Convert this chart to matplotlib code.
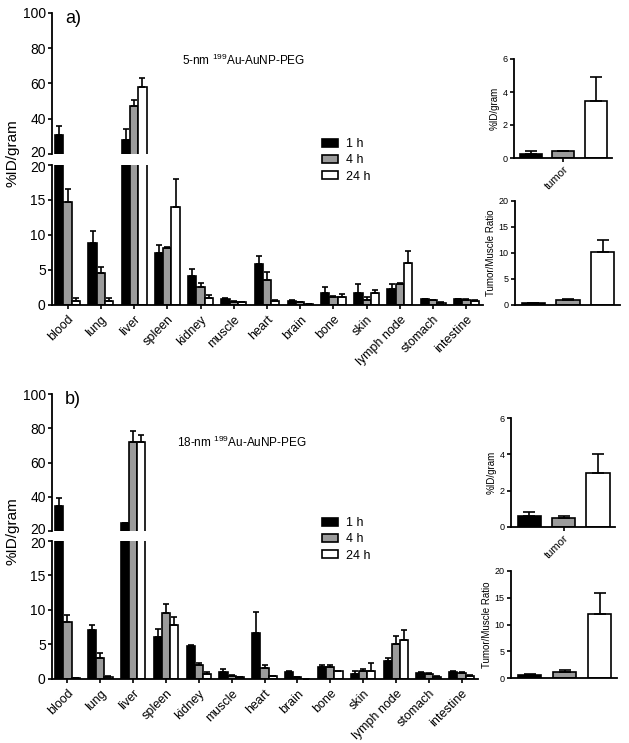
import numpy as np
import matplotlib.pyplot as plt
import matplotlib.transforms as mtransforms
from matplotlib.patches import Patch

plt.rcParams['font.family'] = ['Liberation Sans', 'DejaVu Sans']
plt.rcParams['mathtext.fontset'] = 'custom'
plt.rcParams['mathtext.rm'] = 'Liberation Sans'

organs = ['blood', 'lung', 'liver', 'spleen', 'kidney', 'muscle', 'heart',
          'brain', 'bone', 'skin', 'lymph node', 'stomach', 'intestine']
times = ['1 h', '4 h', '24 h']
colors = ['black', '#9b9b9b', 'white']

# a) 5-nm particles, %ID/gram (mean, upper error)
a_1h = [30.7, 8.8, 28.2, 7.4, 4.1, 0.8, 5.9, 0.55, 1.76, 1.76, 2.25, 0.8, 0.8]
a_1h_err = [5.2, 1.7, 6.2, 1.15, 1.0, 0.25, 1.1, 0.1, 0.75, 1.2, 0.7, 0.1, 0.1]
a_4h = [14.7, 4.6, 47.0, 8.1, 2.5, 0.45, 3.55, 0.4, 1.15, 0.67, 3.05, 0.67, 0.7]
a_4h_err = [1.9, 0.8, 3.5, 0.2, 0.7, 0.05, 1.15, 0.05, 0.15, 0.5, 0.1, 0.08, 0.1]
a_24h = [0.6, 0.6, 58.1, 13.9, 1.05, 0.4, 0.55, 0.1, 1.2, 1.7, 6.0, 0.33, 0.55]
a_24h_err = [0.35, 0.35, 5.3, 4.0, 0.35, 0.05, 0.2, 0.02, 0.3, 0.4, 1.7, 0.09, 0.1]

# b) 18-nm particles
b_1h = [34.6, 7.1, 24.5, 6.1, 4.7, 0.95, 6.7, 1.05, 1.7, 0.72, 2.55, 0.87, 1.05]
b_1h_err = [4.8, 0.75, 0.3, 1.2, 0.2, 0.55, 3.05, 0.15, 0.35, 0.43, 0.45, 0.18, 0.1]
b_4h = [8.2, 3.0, 72.0, 9.6, 2.0, 0.5, 1.55, 0.25, 1.7, 1.2, 5.05, 0.72, 0.87]
b_4h_err = [1.0, 0.7, 6.4, 1.25, 0.25, 0.15, 0.5, 0.03, 0.3, 0.2, 1.15, 0.15, 0.13]
b_24h = [0.1, 0.35, 72.0, 7.75, 0.72, 0.3, 0.38, 0.05, 1.15, 1.2, 5.6, 0.34, 0.43]
b_24h_err = [0.02, 0.1, 4.0, 1.25, 0.23, 0.05, 0.05, 0.01, 0.05, 1.06, 1.5, 0.05, 0.15]

# tumor insets (1 h, 4 h, 24 h)
a_tumor = [0.25, 0.4, 3.45]
a_tumor_err = [0.2, 0.05, 1.45]
a_ratio = [0.3, 1.0, 10.1]
a_ratio_err = [0.15, 0.1, 2.4]
b_tumor = [0.6, 0.5, 3.0]
b_tumor_err = [0.25, 0.12, 1.0]
b_ratio = [0.6, 1.1, 11.9]
b_ratio_err = [0.1, 0.35, 3.9]

W, H = 629, 743
fig = plt.figure(figsize=(W / 100, H / 100), dpi=100)


def px_axes(x0, x1, y0, y1):
    # pixel box (left, right, top, bottom) -> axes
    return fig.add_axes([x0 / W, 1 - y1 / H, (x1 - x0) / W, (y1 - y0) / H])


def style(ax, size=10):
    for s in ['top', 'right']:
        ax.spines[s].set_visible(False)
    for s in ['left', 'bottom']:
        ax.spines[s].set_linewidth(1.3)
    ax.tick_params(width=1.2, length=3, labelsize=size, pad=1.5)


def nudge(label, dy):
    # shift a tick label by dy points (keeps the two "20" labels apart)
    label.set_transform(label.get_transform() +
                        mtransforms.ScaledTranslation(0, dy / 72, fig.dpi_scale_trans))


def main_panel(top_box, bot_box, series, errs, label, title, leg_y, ylab_y):
    ax_t = px_axes(*top_box)
    ax_b = px_axes(*bot_box)
    x = np.arange(len(organs))
    for i in range(3):
        xi = x + (i - 1) * 0.25
        for ax in (ax_t, ax_b):
            ax.bar(xi, series[i], 0.25, color=colors[i], edgecolor='black', linewidth=1.2)
            ax.errorbar(xi, series[i], yerr=[np.zeros(len(x)), errs[i]], fmt='none',
                        ecolor='black', elinewidth=1.2, capsize=2, capthick=1.2)
    for ax in (ax_t, ax_b):
        style(ax)
        ax.set_xlim(-0.47, 12.5)
    ax_t.set_ylim(20, 100)
    ax_t.set_yticks([20, 40, 60, 80, 100])
    ax_t.spines['bottom'].set_visible(False)
    ax_t.set_xticks([])
    ax_b.set_ylim(0, 20)
    ax_b.set_yticks([0, 5, 10, 15, 20])
    ax_b.set_xticks(x)
    ax_b.set_xticklabels(organs, rotation=45, ha='right', rotation_mode='anchor', fontsize=9)
    ax_b.tick_params(axis='x', pad=3)
    nudge(ax_t.get_yticklabels()[0], 1.5)
    nudge(ax_b.get_yticklabels()[-1], -1.5)
    fig.text(65 / W, 1 - top_box[2] / H + 0.004, label, fontsize=13, va='top')
    fig.text(title[1] / W, 1 - title[2] / H, title[0], fontsize=8.5, va='center')
    fig.text(13 / W, 1 - ylab_y / H, '%ID/gram', fontsize=11, rotation=90,
             ha='center', va='center')
    handles = [Patch(facecolor=c, edgecolor='black', linewidth=1.2) for c in colors]
    fig.legend(handles, times, loc='upper left', bbox_to_anchor=(322 / W, 1 - leg_y / H),
               frameon=False, fontsize=9, borderpad=0, borderaxespad=0,
               handlelength=1.3, handleheight=0.6, handletextpad=0.6, labelspacing=0.35)


def inset(box, vals, errs, ymax, ylabel, xlab):
    ax = px_axes(*box)
    x = np.arange(3)
    ax.bar(x, vals, 0.68, color=colors, edgecolor='black', linewidth=1.2)
    ax.errorbar(x, vals, yerr=[np.zeros(3), errs], fmt='none', ecolor='black',
                elinewidth=1.2, capsize=4, capthick=1.2)
    style(ax, size=6.5)
    ax.set_xlim(-0.53, 2.5)
    ax.set_ylim(0, ymax)
    ax.set_yticks(np.linspace(0, ymax, 4 if ymax == 6 else 5))
    ax.set_ylabel(ylabel, fontsize=7, labelpad=2)
    if xlab:
        ax.set_xticks([1])
        ax.set_xticklabels(['tumor'], rotation=45, ha='right', rotation_mode='anchor', fontsize=8)
    else:
        ax.set_xticks([])
    return ax


main_panel((52, 483, 13, 154), (52, 483, 164.7, 305),
           [a_1h, a_4h, a_24h], [a_1h_err, a_4h_err, a_24h_err],
           'a)', (r'5-nm $^{199}$Au-AuNP-PEG', 182, 60), 138, 153)
main_panel((52, 478, 394, 531), (52, 478, 540.7, 679),
           [b_1h, b_4h, b_24h], [b_1h_err, b_4h_err, b_24h_err],
           'b)', (r'18-nm $^{199}$Au-AuNP-PEG', 177, 442), 517, 531)

inset((514, 612, 59, 158), a_tumor, a_tumor_err, 6, '%ID/gram', True)
inset((515, 620, 200.7, 305), a_ratio, a_ratio_err, 20, 'Tumor/Muscle Ratio', False)
inset((511, 615, 418, 527), b_tumor, b_tumor_err, 6, '%ID/gram', True)
inset((511, 617, 571, 678), b_ratio, b_ratio_err, 20, 'Tumor/Muscle Ratio', False)

fig.savefig('out.png', dpi=100)
